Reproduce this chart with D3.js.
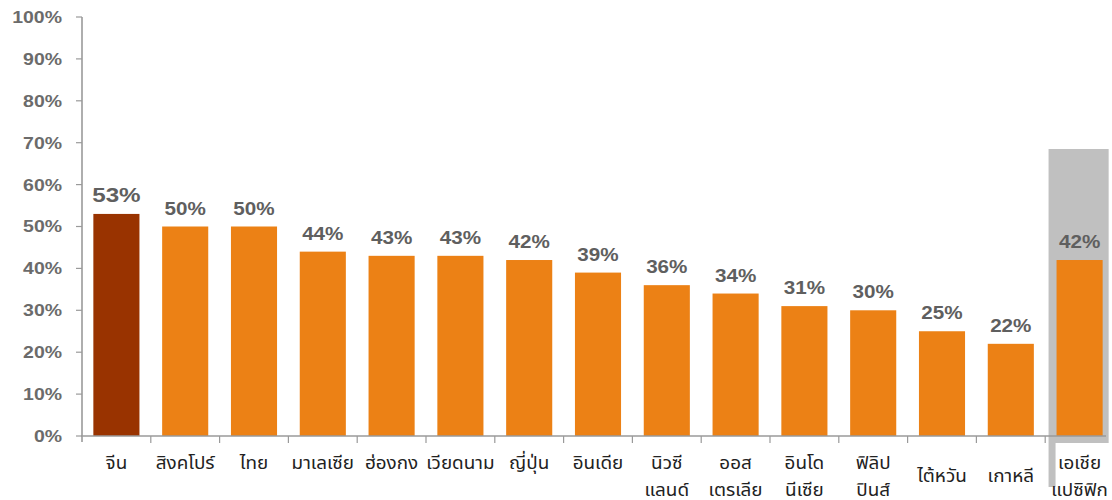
<!DOCTYPE html>
<html><head><meta charset="utf-8">
<script src="https://cdn.jsdelivr.net/npm/d3@7"></script>
<style>body{margin:0;background:#fff}svg{display:block}</style>
</head><body>
<svg id="c" width="1112" height="500"></svg>
<script>
const categories = ["จีน","สิงคโปร์","ไทย","มาเลเซีย","ฮ่องกง","เวียดนาม","ญี่ปุ่น","อินเดีย","นิวซี|แลนด์","ออส|เตรเลีย","อินโด|นีเซีย","ฟิลิป|ปินส์","ไต้หวัน","เกาหลี","เอเชีย|แปซิฟิก"];
const values = [53,50,50,44,43,43,42,39,36,34,31,30,25,22,42];
const yTicks = [0,10,20,30,40,50,60,70,80,90,100];
const highlightIndex = 0;
const regionIndex = 14;
const lowerCentered = ["ไต้หวัน","เกาหลี"];

(function(){
const svg = d3.select("#c");
const SX = 1.18;
const mLeft = 82, mBottom = 436, mTop = 17;
const x = d3.scaleBand().domain(categories).range([mLeft, mLeft + 15*68.8]).paddingInner(0.33).paddingOuter(0.165);
const y = d3.scaleLinear().domain([0,100]).range([mBottom, mTop]);
const bw = x.bandwidth();

const rx = x(categories[regionIndex]) - 8;
svg.append("rect").attr("x", rx).attr("y", 149).attr("width", bw + 14).attr("height", 487-149).attr("fill", "#c0c0c0");
svg.append("rect").attr("x", rx + 7).attr("y", 443).attr("width", 200).attr("height", 100).attr("fill", "#fff");

svg.selectAll("rect.bar").data(values).enter().append("rect")
  .attr("class","bar")
  .attr("x", (d,i) => x(categories[i]))
  .attr("y", d => y(d))
  .attr("width", bw)
  .attr("height", d => y(0) - y(d))
  .attr("fill", (d,i) => i === highlightIndex ? "#993300" : "#ec8115");

const axisColor = "#9a9a9a";
svg.append("line").attr("x1", mLeft).attr("x2", mLeft).attr("y1", y(100)).attr("y2", mBottom+6).attr("stroke", axisColor).attr("stroke-width", 1.6);
svg.append("line").attr("x1", mLeft-1).attr("x2", 1106).attr("y1", mBottom).attr("y2", mBottom).attr("stroke", axisColor).attr("stroke-width", 1.6);
yTicks.forEach(t => {
  svg.append("line").attr("x1", mLeft-6).attr("x2", mLeft).attr("y1", y(t)).attr("y2", y(t)).attr("stroke", axisColor).attr("stroke-width", 1.2);
  svg.append("text").attr("transform", `translate(62,${y(t)}) scale(${SX},1)`)
    .attr("dy","0.36em").attr("text-anchor","end")
    .attr("font-family","Liberation Sans, Arial, sans-serif").attr("font-weight","bold")
    .attr("font-size", 16.5).attr("fill","#6b6b6b").text(t + "%");
});
categories.forEach((c,i) => {
  if (i === 0) return;
  const bx = x(c) - x.step()*x.paddingInner()/2;
  svg.append("line").attr("x1", bx).attr("x2", bx).attr("y1", mBottom).attr("y2", mBottom+7).attr("stroke", axisColor).attr("stroke-width", 1.2);
});

svg.selectAll("text.val").data(values).enter().append("text")
  .attr("class","val")
  .attr("transform", (d,i) => `translate(${x(categories[i]) + bw/2},${y(d) - 12}) scale(${SX},1)`)
  .attr("text-anchor","middle")
  .attr("font-family","Liberation Sans, Arial, sans-serif").attr("font-weight","bold")
  .attr("font-size", (d,i) => i === highlightIndex ? 20.5 : 17.5)
  .attr("fill","#5f5f5f")
  .text(d => d + "%");

categories.forEach((c,i) => {
  const lines = c.split("|");
  const cx = x(c) + bw/2;
  let y0 = 469;
  if (lowerCentered.includes(c)) y0 = 482;
  lines.forEach((ln,k) => {
    svg.append("text").attr("transform", `translate(${cx},${y0 + k*27}) scale(1.05,1)`)
      .attr("text-anchor","middle")
      .attr("font-family","Tahoma, 'Noto Sans Thai', 'Noto Serif Thai', 'DejaVu Sans', sans-serif")
      .attr("font-size", 18).attr("fill","#222").text(ln);
  });
});
})();
</script>
</body></html>
